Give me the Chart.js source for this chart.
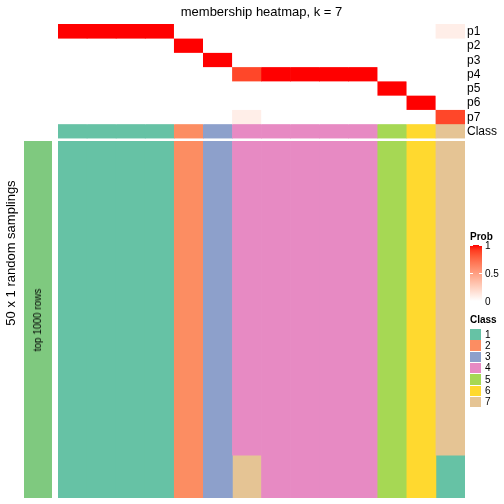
<!DOCTYPE html>
<html>
<head>
<meta charset="utf-8">
<script src="https://cdn.jsdelivr.net/npm/chart.js@4"></script>
<style>
body{margin:0;width:504px;height:504px;position:relative;overflow:hidden;background:#fff;font-family:"Liberation Sans",Arial,Helvetica,sans-serif}
canvas{position:absolute}
.t{position:absolute;white-space:nowrap;color:#000;line-height:1}
.c{transform:translate(-50%,-50%)}
.r{transform:translate(-50%,-50%) rotate(-90deg)}
.v{transform:translateY(-50%)}
</style>
</head>
<body>
<canvas id="main" width="504" height="504" style="left:0;top:0"></canvas>
<canvas id="anno" width="28" height="357" style="left:24px;top:141px"></canvas>
<div id="texts"></div>
<script>
// samples (columns) of the heatmap
const samples=['s1','s2','s3','s4','s5','s6','s7','s8','s9','s10','s11','s12','s13','s14'];
const probNames=['p1','p2','p3','p4','p5','p6','p7'];
const p1=[1,1,1,1,0,0,0,0,0,0,0,0,0,0.09];
const p2=[0,0,0,0,1,0,0,0,0,0,0,0,0,0];
const p3=[0,0,0,0,0,1,0,0,0,0,0,0,0,0];
const p4=[0,0,0,0,0,0,0.87,1,1,1,1,0,0,0];
const p5=[0,0,0,0,0,0,0,0,0,0,0,1,0,0];
const p6=[0,0,0,0,0,0,0,0,0,0,0,0,1,0];
const p7=[0,0,0,0,0,0,0.09,0,0,0,0,0,0,0.87];
const classOf=[1,1,1,1,2,3,4,4,4,4,4,5,6,7];
// 50 random samplings, one string per sampling, one digit per sample
const samplings=[
 '11112344444567','11112344444567','11112344444567','11112344444567','11112344444567',
 '11112344444567','11112344444567','11112344444567','11112344444567','11112344444567',
 '11112344444567','11112344444567','11112344444567','11112344444567','11112344444567',
 '11112344444567','11112344444567','11112344444567','11112344444567','11112344444567',
 '11112344444567','11112344444567','11112344444567','11112344444567','11112344444567',
 '11112344444567','11112344444567','11112344444567','11112344444567','11112344444567',
 '11112344444567','11112344444567','11112344444567','11112344444567','11112344444567',
 '11112344444567','11112344444567','11112344444567','11112344444567','11112344444567',
 '11112344444567','11112344444567','11112344444567','11112344444567',
 '11112374444561','11112374444561','11112374444561','11112374444561','11112374444561','11112374444561'
];
const classLabels=['1','2','3','4','5','6','7'];
const classColors={1:'#66C2A5',2:'#FC8D62',3:'#8DA0CB',4:'#E78AC3',5:'#A6D854',6:'#FFD92F',7:'#E5C494'};
const probTicks=[1,0.5,0];

// white -> red ramp in LAB, like colorRamp2
function toLab([r,g,b]){
  const f=c=>{c/=255;return c<=0.04045?c/12.92:Math.pow((c+0.055)/1.055,2.4);};
  const R=f(r),G=f(g),B=f(b);
  let X=(R*0.4124+G*0.3576+B*0.1805)/0.95047, Y=R*0.2126+G*0.7152+B*0.0722, Z=(R*0.0193+G*0.1192+B*0.9505)/1.08883;
  const h=t=>t>0.008856?Math.cbrt(t):7.787*t+16/116;
  X=h(X);Y=h(Y);Z=h(Z);
  return [116*Y-16,500*(X-Y),200*(Y-Z)];
}
function fromLab([L,a,b]){
  let Y=(L+16)/116, X=a/500+Y, Z=Y-b/200;
  const h=t=>t*t*t>0.008856?t*t*t:(t-16/116)/7.787;
  X=h(X)*0.95047;Y=h(Y);Z=h(Z)*1.08883;
  const R=X*3.2406+Y*-1.5372+Z*-0.4986, G=X*-0.9689+Y*1.8758+Z*0.0415, B=X*0.0557+Y*-0.2040+Z*1.0570;
  const g=c=>{c=c<=0.0031308?12.92*c:1.055*Math.pow(c,1/2.4)-0.055;return Math.round(Math.max(0,Math.min(1,c))*255);};
  return `rgb(${g(R)},${g(G)},${g(B)})`;
}
const labW=toLab([255,255,255]), labR=toLab([255,0,0]);
function probColor(v){ return fromLab(labW.map((w,i)=>w+(labR[i]-w)*v)); }

// vertical layout in row units
const TOP_ROW=2, GAP=0.46;
const bodyStart=(probNames.length+1)*TOP_ROW+GAP;
const yMax=bodyStart+samplings.length;

const probRows=[p1,p2,p3,p4,p5,p6,p7];
const datasets=[];
const bar={borderWidth:0,grouped:false,barPercentage:1,categoryPercentage:1};
probRows.forEach((row,r)=>{
  datasets.push({...bar,label:probNames[r],data:row.map(()=>[r*TOP_ROW,(r+1)*TOP_ROW]),backgroundColor:row.map(probColor)});
});
const cy=probNames.length*TOP_ROW;
datasets.push({...bar,label:'Class',data:classOf.map(()=>[cy,cy+TOP_ROW]),backgroundColor:classOf.map(c=>classColors[c])});

// merge same-class runs per column so there are no seams
const runs=samples.map((_,j)=>{
  const out=[];
  samplings.forEach((s,i)=>{
    const c=+s[j];
    const last=out[out.length-1];
    if(last&&last.c===c) last.end=i+1; else out.push({c,start:i,end:i+1});
  });
  return out;
});
const maxRuns=Math.max(...runs.map(r=>r.length));
for(let k=0;k<maxRuns;k++){
  datasets.push({...bar,label:'run'+k,
    data:runs.map(r=>r[k]?[bodyStart+r[k].start,bodyStart+r[k].end]:null),
    backgroundColor:runs.map(r=>r[k]?classColors[r[k].c]:'#fff')});
}

new Chart(document.getElementById('main'),{
  type:'bar',
  data:{labels:samples,datasets},
  options:{responsive:false,animation:false,devicePixelRatio:1,
    layout:{padding:{left:58,right:39,top:24,bottom:6}},
    plugins:{legend:{display:false},tooltip:{enabled:false},title:{display:false}},
    scales:{x:{display:false},y:{display:false,reverse:true,min:0,max:yMax}}}
});

new Chart(document.getElementById('anno'),{
  type:'bar',
  data:{labels:['top 1000 rows'],datasets:[{...bar,data:[[0,1]],backgroundColor:'#7FC97F'}]},
  options:{responsive:false,animation:false,devicePixelRatio:1,
    plugins:{legend:{display:false},tooltip:{enabled:false}},
    scales:{x:{display:false},y:{display:false,min:0,max:1}}}
});

// texts and legends
const box=document.getElementById('texts');
function add(html,cls,style){const d=document.createElement('div');d.className='t '+cls;d.innerHTML=html;d.style.cssText=style;box.appendChild(d);return d;}
add('membership heatmap, k = 7','c','left:261.5px;top:11px;font-size:13px');
const rowPx=474/yMax;
[...probNames,'Class'].forEach((n,i)=>add(n,'v',`left:467px;top:${24+(i+0.5)*TOP_ROW*rowPx}px;font-size:12px`));
add('50 x 1 random samplings','r','left:10px;top:253px;font-size:13px');
add('top 1000 rows','r','left:38px;top:320px;font-size:10px');

add('<b>Prob</b>','v','left:470px;top:237px;font-size:10px');
const stops=[];for(let i=0;i<=10;i++)stops.push(probColor(1-i/10));
add('','',`left:470px;top:245px;width:12px;height:56px;background:linear-gradient(${stops.join(',')})`);
probTicks.forEach(v=>{
  const y=245+(1-v)*56;
  if(v>0){add('','',`left:470px;top:${y}px;width:3px;height:1px;background:#fff`);add('','',`left:479px;top:${y}px;width:3px;height:1px;background:#fff`);}
  add(String(v),'v',`left:485px;top:${y+1}px;font-size:10px`);
});
add('<b>Class</b>','v','left:470px;top:320px;font-size:10px');
classLabels.forEach((c,i)=>{
  const y=329+i*11.3;
  add('','',`left:470px;top:${y}px;width:11px;height:10.5px;background:${classColors[c]}`);
  add(c,'v',`left:485px;top:${y+5.5}px;font-size:10px`);
});
</script>
</body>
</html>
